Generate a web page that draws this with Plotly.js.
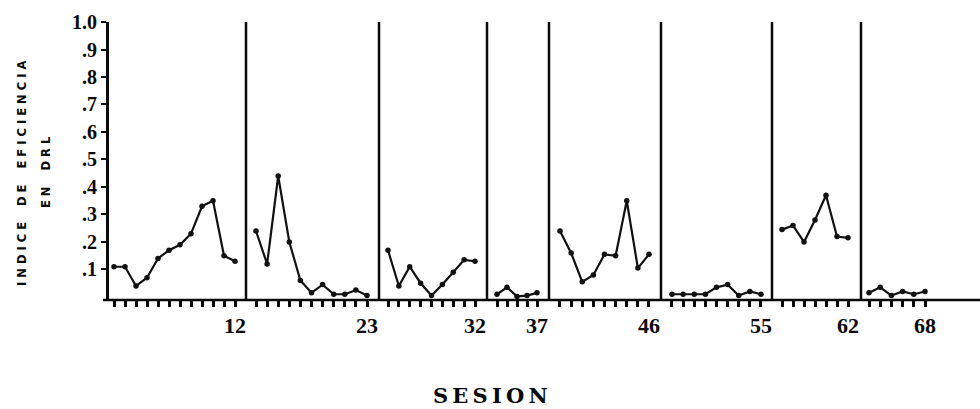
<!DOCTYPE html>
<html>
<head>
<meta charset="utf-8">
<script src="https://cdn.plot.ly/plotly-3.0.1.min.js"></script>
<style>
  html, body { margin: 0; padding: 0; background: #fff; }
  #chart { width: 980px; height: 409px; }
</style>
</head>
<body>
<div id="chart"></div>
<script>
// ---------------- DATA ----------------
const sessions = [
  1,2,3,4,5,6,7,8,9,10,11,12,
  13,14,15,16,17,18,19,20,21,22,23,
  24,25,26,27,28,29,30,31,32,
  33,34,35,36,37,
  38,39,40,41,42,43,44,45,46,
  47,48,49,50,51,52,53,54,55,
  56,57,58,59,60,61,62,
  63,64,65,66,67,68
];
const efficiency = [
  0.11, 0.11, 0.04, 0.07, 0.14, 0.17, 0.19, 0.23, 0.33, 0.35, 0.15, 0.13,
  0.24, 0.12, 0.44, 0.20, 0.06, 0.015, 0.045, 0.01, 0.01, 0.025, 0.005,
  0.17, 0.04, 0.11, 0.05, 0.005, 0.045, 0.09, 0.135, 0.13,
  0.01, 0.035, 0.002, 0.005, 0.015,
  0.24, 0.16, 0.055, 0.08, 0.155, 0.15, 0.35, 0.105, 0.155,
  0.01, 0.01, 0.01, 0.01, 0.035, 0.045, 0.005, 0.02, 0.01,
  0.245, 0.26, 0.20, 0.28, 0.37, 0.22, 0.215,
  0.015, 0.035, 0.005, 0.02, 0.01, 0.02
];
const phaseLastSession = [12, 23, 32, 37, 46, 55, 62, 68];
const yTickVals = [0.1, 0.2, 0.3, 0.4, 0.5, 0.6, 0.7, 0.8, 0.9, 1.0];
const yTickText = ['.1', '.2', '.3', '.4', '.5', '.6', '.7', '.8', '.9', '1.0'];
const yTitleLine1 = 'INDICE DE EFICIENCIA';
const yTitleLine2 = 'EN DRL';
const xTitle = 'SESION';

// ---------------- LAYOUT GEOMETRY (pixels of the hand-drawn sheet) ----------------
const PLOT_L = 103, PLOT_R = 980, PLOT_T = 22, PLOT_B = 300;
const segTickPx = [[114,235],[256,367],[388,475],[497,537],[560,649],[672,761],[782,848],[869,925]];
const sepPx = [246, 379, 487, 549, 661, 772, 861];

const W = PLOT_R - PLOT_L, H = PLOT_B - PLOT_T;
const toPaperX = px => (px - PLOT_L) / W;
const toPaperY = py => (PLOT_B - py) / H;
const spaced = s => s.split('').map(c => c === ' ' ? '\u00A0\u00A0' : c).join('\u00A0');

const traces = [];
const layout = {
  width: 980, height: 409,
  margin: { l: PLOT_L, r: 980 - PLOT_R, t: PLOT_T, b: 409 - PLOT_B, pad: 0 },
  paper_bgcolor: '#ffffff', plot_bgcolor: '#ffffff',
  showlegend: false,
  xaxis: {
    domain: [0, 1], range: [0, 1], anchor: 'y',
    showline: true, linecolor: '#0a0a0a', linewidth: 2.5,
    showticklabels: false, ticks: '', showgrid: false, zeroline: false, fixedrange: true
  },
  yaxis: {
    domain: [0, 1], range: [-0.011, 1.0], anchor: 'x',
    showline: true, linecolor: '#0a0a0a', linewidth: 2.5,
    ticks: 'outside', ticklen: 5, tickwidth: 2, tickcolor: '#0a0a0a',
    tickvals: yTickVals, ticktext: yTickText,
    tickfont: { family: 'Liberation Serif', size: 20, color: '#0a0a0a', weight: 'bold' },
    showgrid: false, zeroline: false, fixedrange: true
  },
  shapes: [
    { type: 'line', xref: 'paper', yref: 'paper', x0: 0, x1: 1, y0: 0, y1: 0,
      line: { color: '#0a0a0a', width: 2.5 } }
  ],
  annotations: []
};

let prev = 0;
phaseLastSession.forEach((last, i) => {
  const xs = [], ys = [];
  sessions.forEach((s, k) => {
    if (s > prev && s <= last) { xs.push(s); ys.push(efficiency[k]); }
  });
  prev = last;
  const s0 = xs[0], s1 = xs[xs.length - 1];
  const [p0, p1] = segTickPx[i];
  const step = (p1 - p0) / (s1 - s0);
  const n = i + 2;
  layout['xaxis' + n] = {
    domain: [toPaperX(p0 - step / 2), toPaperX(p1 + step / 2)],
    range: [s0 - 0.5, s1 + 0.5], anchor: 'y',
    tickvals: xs, ticktext: xs.map(s => s === last ? String(last) : ''),
    ticks: 'outside', ticklen: 6, tickwidth: 3, tickcolor: '#0a0a0a',
    tickfont: { family: 'Liberation Serif', size: 22, color: '#0a0a0a', weight: 'bold' },
    showline: false, showgrid: false, zeroline: false, fixedrange: true
  };
  traces.push({
    type: 'scatter', mode: 'lines+markers',
    x: xs, y: ys, xaxis: 'x' + n, yaxis: 'y',
    line: { color: '#111', width: 2.2 },
    marker: { color: '#111', size: 5.5 },
    cliponaxis: false, hoverinfo: 'x+y'
  });
});

sepPx.forEach(px => {
  layout.shapes.push({
    type: 'line', xref: 'paper', yref: 'paper',
    x0: toPaperX(px), x1: toPaperX(px), y0: 0, y1: 1,
    line: { color: '#0a0a0a', width: 2.5 }
  });
});

layout.annotations.push({
  text: spaced(yTitleLine1), xref: 'paper', yref: 'paper',
  x: toPaperX(22), y: toPaperY(174), xanchor: 'center', yanchor: 'middle',
  textangle: -90, showarrow: false,
  font: { family: 'DejaVu Sans', size: 11.5, color: '#0a0a0a', weight: 'bold' }
});
layout.annotations.push({
  text: spaced(yTitleLine2), xref: 'paper', yref: 'paper',
  x: toPaperX(46), y: toPaperY(172), xanchor: 'center', yanchor: 'middle',
  textangle: -90, showarrow: false,
  font: { family: 'DejaVu Sans', size: 11.5, color: '#0a0a0a', weight: 'bold' }
});
layout.annotations.push({
  text: xTitle.split('').join('\u2009'), xref: 'paper', yref: 'paper',
  x: toPaperX(490), y: toPaperY(395), xanchor: 'center', yanchor: 'middle',
  showarrow: false,
  font: { family: 'DejaVu Serif', size: 21, color: '#0a0a0a', weight: 'bold' }
});

Plotly.newPlot('chart', traces, layout, { displayModeBar: false, staticPlot: true });
</script>
</body>
</html>
